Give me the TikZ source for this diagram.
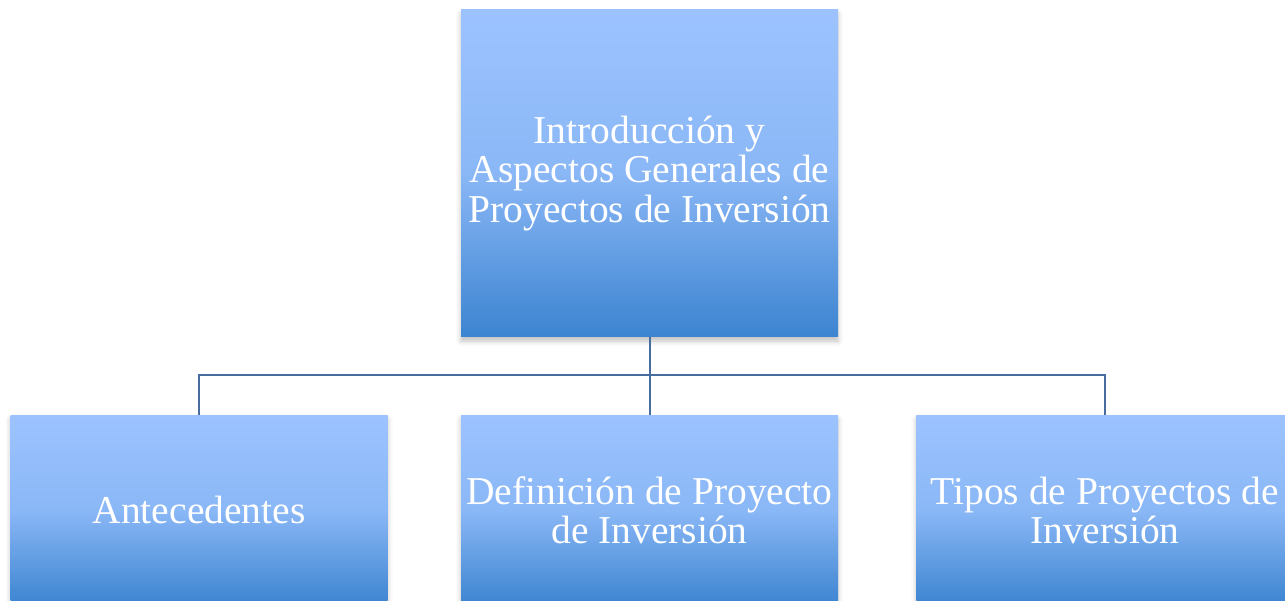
\documentclass[tikz,border=0pt]{standalone}
\usepackage{fontspec}
\setmainfont{Liberation Serif}
\usetikzlibrary{positioning,shadows.blur}
\definecolor{boxtop}{HTML}{9CC3FF}
\definecolor{boxmid}{HTML}{8AB7F6}
\definecolor{boxbot}{HTML}{3C84D0}
\definecolor{linkblue}{RGB}{70,108,160}

\begin{document}
\begin{tikzpicture}[x=1pt, y=-1pt, node distance=78pt,
		b/.style={rectangle, inner sep=0pt, minimum width=377pt, top color=boxtop, bottom color=boxbot, middle color=boxmid, text=white, align=center, font=\fontsize{39.5}{39.5}\selectfont, blur shadow={shadow xshift=0pt, shadow yshift=-4pt, shadow blur radius=5pt, shadow opacity=25}},
		link/.style={draw=linkblue, line width=2pt}]
		\useasboundingbox (0,0) rectangle (1285,601);
		\node [b, minimum height=327pt] (I) at (649.5,173.5) {Introducción y\\Aspectos Generales de\\Proyectos de Inversión};
		\node [b, minimum height=190pt, below=of I] (D) {Definición de Proyecto\\de Inversión};
		\node [b, minimum height=190pt, left=73pt of D] (A) {Antecedentes};
		\node [b, minimum height=190pt, right=78pt of D] (T) {Tipos de Proyectos de\\Inversión};
		\coordinate [below=38pt of I.south] (bus);

		\path[link] (I) edge (D);
		\draw[link] (bus) -| (A.north);
		\draw[link] (bus) -| (T.north);
	\end{tikzpicture}
\end{document}
